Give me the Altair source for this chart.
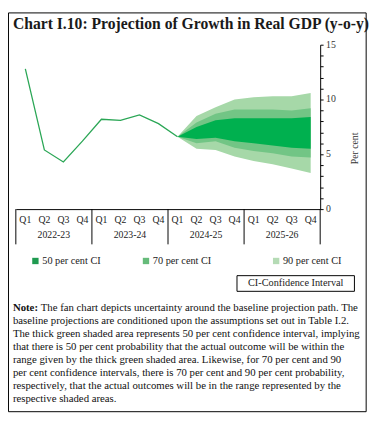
import altair as alt
import pandas as pd

# ---- data ----
quarters = ["Q1", "Q2", "Q3", "Q4"] * 4
years = ["2022-23", "2023-24", "2024-25", "2025-26"]
idx = list(range(16))
ytick_vals = list(range(16))
ylabel_vals = [0, 5, 10, 15]

actual_idx = list(range(9))
actual_vals = [12.8, 5.4, 4.3, 6.2, 8.2, 8.1, 8.6, 7.8, 6.6]

fan_idx = [8, 9, 10, 11, 12, 13, 14, 15]
up90 = [6.6, 8.5, 9.3, 10.0, 10.2, 10.3, 10.3, 10.6]
lo90 = [6.6, 5.5, 5.4, 4.8, 4.4, 4.1, 3.7, 3.3]
up70 = [6.6, 7.9, 8.7, 9.1, 9.1, 9.1, 9.0, 9.2]
lo70 = [6.6, 6.0, 6.2, 5.6, 5.3, 5.1, 4.8, 4.7]
up50 = [6.6, 7.5, 8.1, 8.3, 8.3, 8.3, 8.3, 8.4]
lo50 = [6.6, 6.4, 6.5, 6.2, 6.0, 5.8, 5.6, 5.5]

legend_labels = ["50 per cent CI", "70 per cent CI", "90 per cent CI"]
band_colors = ["#00b04f", "#72c585", "#a6d8a8"]
legend_colors = ["#1f9a50", "#66bb7a", "#b5dbb5"]

title_text = "Chart I.10: Projection of Growth in Real GDP (y-o-y)"
note_first = "The fan chart depicts uncertainty around the baseline projection path. The"
note_lines = [
    "baseline projections are conditioned upon the assumptions set out in Table I.2.",
    "The thick green shaded area represents 50 per cent confidence interval, implying",
    "that there is 50 per cent probability that the actual outcome will be within the",
    "range given by the thick green shaded area. Likewise, for 70 per cent and 90",
    "per cent confidence intervals, there is 70 per cent and 90 per cent probability,",
    "respectively,  that the actual outcomes will be in the range represented by the",
    "respective shaded areas.",
]

SERIF = "Liberation Serif"
W, H = 311, 168
NOTE_FS = 11
LH = 13.4

xscale = alt.Scale(domain=[-0.5, 15.5], nice=False, zero=False)
yscale = alt.Scale(domain=[0, 15], nice=False)

yaxis = alt.Axis(orient="right", values=ytick_vals, labels=False,
                 tickSize=3, tickColor="black", domainColor="black",
                 grid=False, title=None)
xaxis = alt.Axis(labels=False, ticks=False, grid=False, title=None,
                 domainColor="black", domainWidth=1)

fan = pd.DataFrame({"i": fan_idx, "up90": up90, "lo90": lo90, "up70": up70,
                    "lo70": lo70, "up50": up50, "lo50": lo50})
act = pd.DataFrame({"i": actual_idx, "v": actual_vals})

base_fan = alt.Chart(fan)
a90 = base_fan.mark_area(color=band_colors[2], opacity=1).encode(
    x=alt.X("i:Q", scale=xscale, axis=xaxis),
    y=alt.Y("lo90:Q", scale=yscale, axis=yaxis), y2="up90:Q")
a70 = base_fan.mark_area(color=band_colors[1], opacity=1).encode(
    x=alt.X("i:Q", scale=xscale, axis=xaxis),
    y=alt.Y("lo70:Q", scale=yscale, axis=yaxis), y2="up70:Q")
a50 = base_fan.mark_area(color=band_colors[0], opacity=1).encode(
    x=alt.X("i:Q", scale=xscale, axis=xaxis),
    y=alt.Y("lo50:Q", scale=yscale, axis=yaxis), y2="up50:Q")

line = alt.Chart(act).mark_line(color="#2aa655", strokeWidth=1.3).encode(
    x=alt.X("i:Q", scale=xscale, axis=xaxis),
    y=alt.Y("v:Q", scale=yscale, axis=yaxis))

# y tick labels
yl = alt.Chart(pd.DataFrame({"v": ylabel_vals})).mark_text(
    font=SERIF, fontSize=10, align="left", color="#333").encode(
    x=alt.value(W + 6), y=alt.Y("v:Q", scale=yscale, axis=yaxis), text="v:Q")

# category axis: quarter labels, year labels, separators
qdf = pd.DataFrame({"i": idx, "q": quarters})
qlab = alt.Chart(qdf).mark_text(font=SERIF, fontSize=10, color="#222").encode(
    x=alt.X("i:Q", scale=xscale, axis=xaxis), y=alt.value(H + 11), text="q:N")
ydf = pd.DataFrame({"i": [1.5, 5.5, 9.5, 13.5], "yr": years})
ylab = alt.Chart(ydf).mark_text(font=SERIF, fontSize=10, color="#222").encode(
    x=alt.X("i:Q", scale=xscale, axis=xaxis), y=alt.value(H + 27), text="yr:N")
sdf = pd.DataFrame({"i": [-0.5, 3.5, 7.5, 11.5, 15.5]})
seps = alt.Chart(sdf).mark_rule(color="black", strokeWidth=1).encode(
    x=alt.X("i:Q", scale=xscale, axis=xaxis), y=alt.value(H), y2=alt.value(H + 36))

# y title
ytitle = alt.Chart(pd.DataFrame({"t": ["Per cent"]})).mark_text(
    font=SERIF, fontSize=10, angle=270, color="#333").encode(
    x=alt.value(347), y=alt.value(106), text="t:N")

# legend
ldf = pd.DataFrame({"lab": legend_labels, "col": legend_colors,
                    "sx": [20, 133, 266]})
lsq = alt.Chart(ldf).mark_square(size=42, opacity=1).encode(
    x=alt.X("sx:Q", scale=None), y=alt.value(221),
    color=alt.Color("col:N", scale=None))
ltx = alt.Chart(ldf).transform_calculate(tx="datum.sx + 7").mark_text(
    font=SERIF, fontSize=10.5, align="left", color="#222").encode(
    x=alt.X("tx:Q", scale=None), y=alt.value(221), text="lab:N")

# CI box
cibox = alt.Chart(pd.DataFrame({"a": [1]})).mark_rect(
    fill="white", stroke="black", strokeWidth=1).encode(
    x=alt.value(226), x2=alt.value(346), y=alt.value(236), y2=alt.value(252))
citx = alt.Chart(pd.DataFrame({"t": ["CI-Confidence Interval"]})).mark_text(
    font=SERIF, fontSize=10.5, color="#222").encode(
    x=alt.value(286), y=alt.value(244), text="t:N")

# title
ttl = alt.Chart(pd.DataFrame({"t": [title_text]})).mark_text(
    font=SERIF, fontSize=16, fontWeight="bold", align="left", color="#1a1a1a").encode(
    x=alt.value(-3), y=alt.value(-21), text="t:N")

# note
nb = alt.Chart(pd.DataFrame({"t": ["Note:"]})).mark_text(
    font=SERIF, fontSize=NOTE_FS, fontWeight="bold", align="left", color="#111").encode(
    x=alt.value(-3), y=alt.value(269), text="t:N")
n1 = alt.Chart(pd.DataFrame({"t": [note_first]})).mark_text(
    font=SERIF, fontSize=NOTE_FS, align="left", color="#111").encode(
    x=alt.value(25.5), y=alt.value(269), text="t:N")
nrest = alt.Chart(pd.DataFrame({"t": [note_lines]})).mark_text(
    font=SERIF, fontSize=NOTE_FS, align="left", baseline="top", lineHeight=LH,
    color="#111").encode(
    x=alt.value(-3), y=alt.value(269 + LH - 6.5), text="t")

border = alt.Chart(pd.DataFrame({"a": [1]})).mark_rect(
    fill=None, stroke="black", strokeWidth=1, filled=False).encode(
    x=alt.value(-7.5), x2=alt.value(358), y=alt.value(-32.5), y2=alt.value(375))

chart = alt.layer(
    border, a90, a70, a50, line, yl, qlab, ylab, seps, ytitle, lsq, ltx,
    cibox, citx, ttl, nb, n1, nrest
).properties(
    width=W, height=H,
    padding={"left": 8, "top": 33, "right": 55, "bottom": 212},
    autosize="none",
).configure_view(stroke=None)

chart.save("out.html", embed_options={"renderer": "svg", "actions": False})
